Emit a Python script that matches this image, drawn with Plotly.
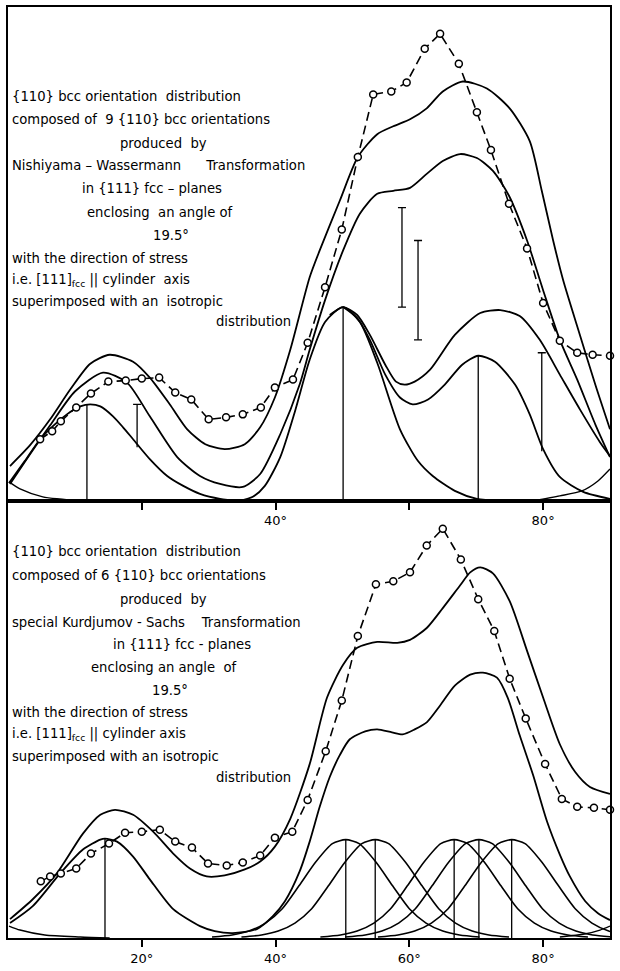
import plotly.graph_objects as go

# ---------------- TOP PANEL (Nishiyama-Wassermann) ----------------
top_meas_x = [4.8, 6.6, 7.9, 10.2, 12.4, 15.0, 17.6, 20.0, 22.6, 25.0, 27.4, 30.0, 32.6, 35.1, 37.8, 39.9, 42.6, 44.8,
              47.4, 49.9, 52.3, 54.6, 57.3, 59.6, 62.3, 64.6, 67.4, 70.1, 72.2, 74.9, 77.6, 80.0, 82.5, 85.1, 87.4, 90.0]
top_meas_y = [12.4, 14.0, 16.0, 18.8, 21.6, 24.0, 24.2, 24.6, 24.8, 21.8, 20.4, 16.4, 16.8, 17.4, 18.8, 22.8, 24.4, 31.8,
              43.0, 54.6, 69.2, 81.8, 82.4, 84.2, 91.0, 94.0, 88.0, 78.2, 70.6, 59.8, 50.8, 39.8, 32.2, 29.8, 29.4, 29.2]

top_sumA_x = [0.3, 3.3, 6.3, 9.3, 12.3, 15.2, 18.7, 21.2, 24.2, 26.8, 29.5, 32.4, 35.4, 37.7, 39.9, 42.2, 45.1, 46.6,
              49.6, 52.3, 55.2, 57.6, 60.1, 62.6, 65.0, 68.0, 71.6, 75.0, 78.0, 79.8, 81.5, 83.0, 85.5, 87.8, 90.0]
top_sumA_y = [7.0, 11.2, 16.4, 22.4, 27.6, 29.4, 28.0, 24.8, 19.4, 14.4, 11.4, 10.4, 11.4, 14.8, 20.8, 30.4, 45.0, 50.4,
              60.4, 69.2, 73.8, 75.4, 76.8, 79.0, 82.4, 84.4, 83.0, 79.0, 72.4, 62.4, 52.4, 44.4, 33.4, 23.4, 14.4]

top_sumB_x = [0.3, 3.7, 6.3, 10.0, 14.2, 17.8, 21.2, 25.3, 28.7, 31.7, 35.1, 37.7, 40.7, 43.6, 45.1, 47.4, 50.1, 52.6,
              55.2, 57.6, 60.1, 62.6, 65.0, 67.6, 70.1, 72.5, 74.9, 77.6, 80.0, 82.5, 85.1, 87.8, 90.0]
top_sumB_y = [3.4, 10.2, 15.2, 22.0, 25.8, 23.8, 17.0, 8.8, 5.0, 3.4, 2.8, 5.4, 13.4, 23.4, 30.4, 40.4, 50.4, 57.8,
              61.8, 62.4, 63.0, 65.8, 68.4, 69.8, 69.0, 66.4, 61.4, 52.4, 42.4, 32.4, 24.4, 15.4, 8.8]

top_c3_x = [48.1, 50.1, 52.2, 54.1, 56.4, 58.0, 59.3, 60.8, 63.1, 66.8, 70.6, 73.6, 76.5, 79.5, 82.5, 85.5, 88.5, 90.0]
top_c3_y = [37.4, 39.0, 37.4, 33.4, 27.4, 24.0, 23.4, 24.0, 26.4, 33.4, 37.8, 38.4, 37.2, 32.4, 25.4, 18.4, 11.8, 9.0]

top_c4_x = [50.1, 52.2, 54.1, 56.4, 58.6, 60.5, 62.8, 65.3, 67.9, 70.3, 72.8, 75.8, 78.0, 80.0, 82.5, 86.0, 90.0]
top_c4_y = [39.0, 36.8, 32.4, 25.4, 20.8, 19.4, 20.4, 23.4, 27.4, 29.2, 28.0, 23.4, 17.4, 10.4, 4.8, 1.8, 0.4]

top_gmid_x = [34.7, 36.6, 38.4, 40.7, 42.9, 45.1, 47.4, 50.1, 52.6, 55.2, 58.6, 61.3, 63.5, 66.8, 70.1, 73.6]
top_gmid_y = [0.0, 0.8, 3.0, 8.8, 18.0, 28.4, 36.0, 39.0, 36.0, 27.8, 14.4, 8.0, 5.0, 2.0, 0.4, 0.0]

top_g1_x = [0.15, 2.5, 4.8, 7.0, 8.8, 10.8, 12.3, 13.8, 15.7, 17.2, 18.7, 21.2, 23.8, 26.2, 28.7, 31.7, 34.7]
top_g1_y = [3.6, 8.0, 12.4, 15.4, 17.4, 19.0, 19.4, 19.0, 17.0, 14.8, 12.4, 8.4, 5.0, 3.0, 1.4, 0.4, 0.0]

top_d0_x = [0.15, 1.8, 5.2, 11.2]
top_d0_y = [3.8, 2.4, 0.8, 0.0]

top_e_x = [78.5, 82.5, 85.8, 88.2, 90.0]
top_e_y = [0.0, 1.0, 2.0, 4.0, 6.4]

top_stem_x = [11.8, 50.1, 70.3]
top_stem_top = [19.4, 39.0, 29.2]
top_bar_x = [19.3, 79.8]
top_bar_lo = [10.8, 10.0]
top_bar_hi = [19.4, 29.8]
top_err_x = [58.9, 61.3]
top_err_lo = [39.0, 32.4]
top_err_hi = [59.0, 52.4]

# ---------------- BOTTOM PANEL (Kurdjumov-Sachs) ----------------
bot_meas_x = [4.9, 6.3, 7.9, 10.2, 12.4, 15.1, 17.5, 20.0, 22.7, 25.0, 27.5, 29.9, 32.7, 35.1, 37.7, 39.9, 42.5, 44.8,
              47.5, 49.9, 52.3, 55.0, 57.6, 60.1, 62.6, 65.0, 67.7, 70.3, 72.7, 75.0, 77.4, 80.3, 82.8, 85.1, 87.6, 90.0]
bot_meas_y = [11.4, 12.4, 13.0, 14.0, 17.0, 19.0, 21.2, 21.4, 21.8, 19.4, 18.2, 15.0, 14.6, 15.2, 16.6, 20.2, 21.4, 27.8,
              37.6, 47.8, 60.8, 71.2, 71.8, 73.6, 79.0, 82.4, 76.2, 68.2, 61.8, 52.2, 44.2, 35.0, 28.0, 26.4, 26.2, 25.8]

bot_sumA_x = [0.3, 3.7, 7.3, 11.2, 13.8, 16.0, 18.7, 21.7, 24.7, 27.2, 29.7, 32.4, 35.4, 37.7, 39.9, 42.2, 45.1, 47.7,
              50.1, 52.2, 55.2, 58.2, 60.1, 62.6, 65.0, 67.6, 69.1, 70.6, 72.5, 75.0, 77.6, 80.0, 82.5, 84.8, 87.0, 90.0]
bot_sumA_y = [3.8, 7.8, 13.0, 21.0, 24.8, 25.8, 24.8, 21.4, 17.0, 14.0, 12.4, 12.6, 13.8, 15.4, 18.4, 24.0, 35.0, 48.4,
              55.0, 58.4, 59.6, 59.4, 60.0, 62.4, 66.4, 71.0, 73.6, 74.6, 73.4, 67.8, 57.8, 48.4, 39.0, 33.4, 30.4, 29.0]

bot_sumB_x = [0.3, 3.7, 7.8, 11.2, 13.8, 14.5, 16.3, 18.7, 21.2, 24.7, 28.7, 30.9, 33.6, 37.2, 39.6, 41.4, 43.6, 45.1,
              46.6, 48.1, 49.6, 51.1, 53.4, 55.2, 57.4, 59.0, 60.8, 62.6, 64.6, 66.8, 69.1, 71.0, 73.1, 74.7, 76.5,
              78.5, 80.6, 82.5, 84.0, 86.3, 88.2, 90.0]
bot_sumB_y = [3.0, 6.4, 13.0, 17.8, 19.8, 20.0, 19.4, 16.4, 11.8, 5.8, 2.4, 1.4, 1.0, 1.8, 4.4, 7.4, 13.4, 19.4,
              26.4, 32.4, 36.8, 40.0, 41.6, 42.0, 41.4, 41.0, 42.0, 43.4, 46.8, 50.8, 53.0, 53.4, 52.4, 48.4, 40.8,
              32.8, 23.4, 16.8, 12.4, 7.4, 5.0, 3.6]

bot_k1_x = [30.5, 33.5, 36.0, 38.5, 41.0, 43.5, 46.0, 48.5, 50.5, 52.5, 55.0, 57.5, 60.0, 62.5, 65.0, 67.5, 70.5]
bot_k1_y = [0.2, 0.6, 1.4, 3.0, 5.9, 10.5, 15.3, 19.0, 19.8, 19.0, 15.3, 10.5, 5.9, 3.0, 1.4, 0.6, 0.2]
bot_k2_x = [34.9, 37.9, 40.4, 42.9, 45.4, 47.9, 50.4, 52.9, 54.9, 56.9, 59.4, 61.9, 64.4, 66.9, 69.4, 71.9, 74.9]
bot_k2_y = [0.2, 0.6, 1.4, 3.0, 5.9, 10.5, 15.3, 19.0, 19.8, 19.0, 15.3, 10.5, 5.9, 3.0, 1.4, 0.6, 0.2]
bot_k3_x = [46.7, 49.7, 52.2, 54.7, 57.2, 59.7, 62.2, 64.7, 66.7, 68.7, 71.2, 73.7, 76.2, 78.7, 81.2, 83.7, 86.7]
bot_k3_y = [0.2, 0.6, 1.4, 3.0, 5.9, 10.5, 15.3, 19.0, 19.8, 19.0, 15.3, 10.5, 5.9, 3.0, 1.4, 0.6, 0.2]
bot_k4_x = [50.4, 53.4, 55.9, 58.4, 60.9, 63.4, 65.9, 68.4, 70.4, 72.4, 74.9, 77.4, 79.9, 82.4, 84.9, 87.4, 90.4]
bot_k4_y = [0.2, 0.6, 1.4, 3.0, 5.9, 10.5, 15.3, 19.0, 19.8, 19.0, 15.3, 10.5, 5.9, 3.0, 1.4, 0.6, 0.2]
bot_k5_x = [55.3, 58.3, 60.8, 63.3, 65.8, 68.3, 70.8, 73.3, 75.3, 77.3, 79.8, 82.3, 84.8, 87.3, 89.8, 92.3, 95.3]
bot_k5_y = [0.2, 0.6, 1.4, 3.0, 5.9, 10.5, 15.3, 19.0, 19.8, 19.0, 15.3, 10.5, 5.9, 3.0, 1.4, 0.6, 0.2]

bot_d0_x = [0.15, 1.8, 5.5, 10.8, 15.2]
bot_d0_y = [2.4, 1.6, 0.6, 0.2, 0.0]
bot_e_x = [82.5, 86.2, 88.5, 90.0]
bot_e_y = [0.2, 0.8, 1.6, 2.4]

bot_stem_x = [14.5, 50.5, 54.9, 66.7, 70.4, 75.3]
bot_stem_top = [20.0, 19.8, 19.8, 19.8, 19.8, 19.8]

# ---------------- TEXT ----------------
NB = "\u00a0"
PAR = "||"
top_lines = [
    ("{110} bcc orientation" + NB * 2 + "distribution", 0.3, 81.4, "left"),
    ("composed of" + NB * 2 + "9 {110} bcc orientations", 0.3, 76.8, "left"),
    ("produced" + NB * 2 + "by", 23.2, 72.0, "center"),
    ("Nishiyama – Wassermann" + NB * 6 + "Transformation", 0.3, 67.4, "left"),
    ("in {111} fcc – planes", 21.5, 62.8, "center"),
    ("enclosing" + NB * 2 + "an angle of", 22.7, 58.0, "center"),
    ("19.5°", 24.4, 53.4, "center"),
    ("with the direction of stress", 0.3, 48.8, "left"),
    ("i.e. [111]<sub>fcc</sub> " + PAR + " cylinder" + NB * 2 + "axis", 0.3, 44.4, "left"),
    ("superimposed with an" + NB * 2 + "isotropic", 0.3, 40.2, "left"),
    ("distribution", 42.6, 36.0, "right"),
]
bot_lines = [
    ("{110} bcc orientation" + NB * 2 + "distribution", 0.3, 77.8, "left"),
    ("composed of 6 {110} bcc orientations", 0.3, 73.0, "left"),
    ("produced" + NB * 2 + "by", 23.3, 68.2, "center"),
    ("special Kurdjumov - Sachs" + NB * 4 + "Transformation", 0.3, 63.6, "left"),
    ("in {111} fcc - planes", 26.0, 59.0, "center"),
    ("enclosing an angle" + NB * 2 + "of", 23.3, 54.4, "center"),
    ("19.5°", 24.2, 49.8, "center"),
    ("with the direction of stress", 0.3, 45.4, "left"),
    ("i.e. [111]<sub>fcc</sub> " + PAR + " cylinder axis", 0.3, 41.0, "left"),
    ("superimposed with an isotropic", 0.3, 36.6, "left"),
    ("distribution", 42.6, 32.4, "right"),
]

top_tick_vals = [40, 80]
top_tick_text = ["40°", "80°"]
top_minor_vals = [20, 60]
bot_tick_vals = [20, 40, 60, 80]
bot_tick_text = ["20°", "40°", "60°", "80°"]

FONT = "DejaVu Sans"
TXT = 13.2
fig = go.Figure()


def curve(x, y, ax, w=1.8):
    xa, ya = ("x", "y") if ax == 1 else ("x2", "y2")
    fig.add_trace(go.Scatter(x=x, y=y, mode="lines", xaxis=xa, yaxis=ya,
                             line=dict(color="black", width=w, shape="spline", smoothing=0.7),
                             hoverinfo="skip", showlegend=False))


def segs(xs, y0s, y1s, ax, cap_lo=False, cap_hi=False, cap=0.6, w=1.3):
    xa, ya = ("x", "y") if ax == 1 else ("x2", "y2")
    px, py = [], []
    for x, a, b in zip(xs, y0s, y1s):
        px += [x, x, None]
        py += [a, b, None]
        if cap_hi:
            px += [x - cap, x + cap, None]
            py += [b, b, None]
        if cap_lo:
            px += [x - cap, x + cap, None]
            py += [a, a, None]
    fig.add_trace(go.Scatter(x=px, y=py, mode="lines", xaxis=xa, yaxis=ya,
                             line=dict(color="black", width=w),
                             hoverinfo="skip", showlegend=False))


def measured(x, y, ax):
    xa, ya = ("x", "y") if ax == 1 else ("x2", "y2")
    fig.add_trace(go.Scatter(x=x, y=y, mode="lines+markers", xaxis=xa, yaxis=ya,
                             line=dict(color="black", width=1.6, dash="9px,5px"),
                             marker=dict(symbol="circle", size=7, color="white",
                                         line=dict(color="black", width=1.5)),
                             cliponaxis=False, hoverinfo="skip", showlegend=False))


# top panel
for cx, cy in [(top_sumA_x, top_sumA_y), (top_sumB_x, top_sumB_y), (top_c3_x, top_c3_y),
               (top_c4_x, top_c4_y), (top_gmid_x, top_gmid_y), (top_g1_x, top_g1_y)]:
    curve(cx, cy, 1)
for cx, cy in [(top_d0_x, top_d0_y), (top_e_x, top_e_y)]:
    curve(cx, cy, 1, w=1.4)
segs(top_stem_x, [0] * len(top_stem_x), top_stem_top, 1)
segs(top_bar_x, top_bar_lo, top_bar_hi, 1, cap_hi=True)
segs(top_err_x, top_err_lo, top_err_hi, 1, cap_lo=True, cap_hi=True)
measured(top_meas_x, top_meas_y, 1)

# bottom panel
for cx, cy in [(bot_sumA_x, bot_sumA_y), (bot_sumB_x, bot_sumB_y)]:
    curve(cx, cy, 2)
for cx, cy in [(bot_k1_x, bot_k1_y), (bot_k2_x, bot_k2_y), (bot_k3_x, bot_k3_y),
               (bot_k4_x, bot_k4_y), (bot_k5_x, bot_k5_y)]:
    curve(cx, cy, 2, w=1.6)
for cx, cy in [(bot_d0_x, bot_d0_y), (bot_e_x, bot_e_y)]:
    curve(cx, cy, 2, w=1.4)
segs(bot_stem_x, [0] * len(bot_stem_x), bot_stem_top, 2)
measured(bot_meas_x, bot_meas_y, 2)

annos = []
for txt, x, y, al in top_lines:
    annos.append(dict(text=txt, x=x, y=y, xref="x", yref="y", xanchor=al, yanchor="middle",
                      showarrow=False, font=dict(family=FONT, size=TXT, color="black")))
for txt, x, y, al in bot_lines:
    annos.append(dict(text=txt, x=x, y=y, xref="x2", yref="y2", xanchor=al, yanchor="middle",
                      showarrow=False, font=dict(family=FONT, size=TXT, color="black")))
annos.append(dict(text="ω", x=86.0, y=-2.8, xref="x", yref="y", showarrow=False,
                  font=dict(family=FONT, size=14, color="black")))
annos.append(dict(text="ω", x=86.3, y=-4.0, xref="x2", yref="y2", showarrow=False,
                  font=dict(family=FONT, size=14, color="black")))

split = (942 - 502) / 937.0
axis_common = dict(range=[0, 90], showgrid=False, zeroline=False, showline=True, mirror=True,
                   linecolor="black", linewidth=2, ticks="outside", ticklen=7, tickwidth=1.5,
                   tickcolor="black", tickmode="array", tickfont=dict(family=FONT, size=13, color="black"))
yaxis_common = dict(showgrid=False, zeroline=False, showline=True, mirror=True, linecolor="black",
                    linewidth=2, showticklabels=False, ticks="")

fig.update_layout(
    width=620, height=971,
    margin=dict(l=8, r=10, t=5, b=29),
    paper_bgcolor="white", plot_bgcolor="white",
    xaxis=dict(domain=[0, 1], anchor="y", tickvals=top_tick_vals, ticktext=top_tick_text,
               minor=dict(tickmode="array", tickvals=top_minor_vals, ticks="outside", ticklen=7,
                          tickwidth=1.5, tickcolor="black", showgrid=False),
               **axis_common),
    yaxis=dict(domain=[split, 1], range=[0, 99.4], anchor="x", **yaxis_common),
    xaxis2=dict(domain=[0, 1], anchor="y2", tickvals=bot_tick_vals, ticktext=bot_tick_text, **axis_common),
    yaxis2=dict(domain=[0, split], range=[0, 88], anchor="x2", **yaxis_common),
    annotations=annos,
    showlegend=False,
)

fig.write_html("out.html")
